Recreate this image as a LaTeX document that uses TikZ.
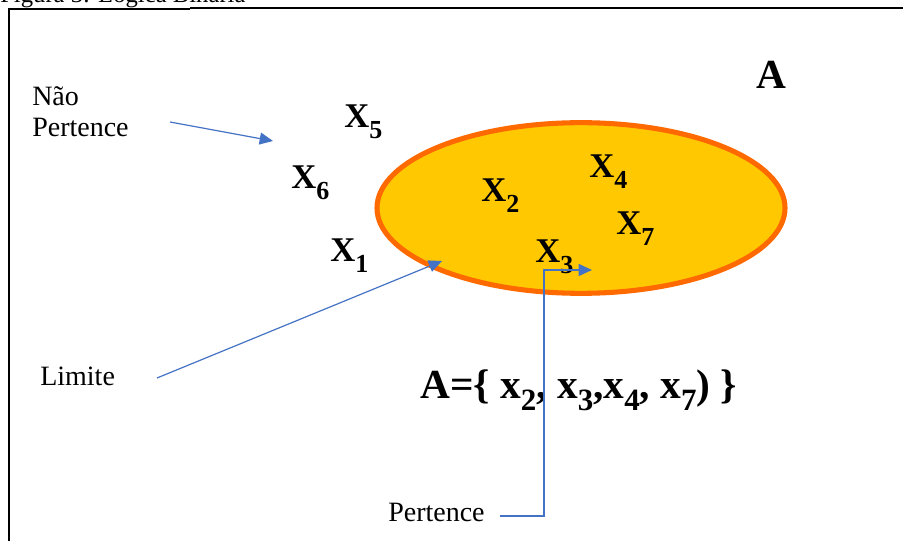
\documentclass[tikz,border=0pt]{standalone}
\usepackage{fontspec}
\usepackage{graphicx}
\setmainfont{Liberation Serif}
\usetikzlibrary{arrows.meta,shapes.geometric}
\definecolor{arrowblue}{HTML}{4472C4}
\definecolor{ellfill}{HTML}{FFC800}
\definecolor{ellline}{HTML}{FF6A00}
\newcommand{\lsub}[1]{\raisebox{-0.3em}{\scalebox{0.75}{#1}}}
\tikzset{
  elem/.style={font=\fontsize{26}{28}\selectfont\bfseries, inner sep=0pt, anchor=base west},
  plain/.style={font=\fontsize{21}{24}\selectfont, inner sep=0pt, anchor=base west},
  conn/.style={draw=arrowblue, line width=0.9pt, -{Triangle[length=10pt,width=9pt]}},
}
\begin{document}
\begin{tikzpicture}[x=0.75pt,y=-0.75pt]
\useasboundingbox (0,0) rectangle (903,541);
% caption (cut off at top, as in the reference)
\node[font=\fontsize{18.5}{21}\selectfont, inner sep=0pt, anchor=base west] (cap) at (0,3) {Figura 3: Lógica Binária};
% frame
\draw[line width=1.2pt] (9,545) -- (9,9) -- (190,9);
\draw[line width=0.9pt] (190,8) -- (897,8);
\draw[line width=1.5pt] (897,8) -- (903,8);
% set ellipse
\node[draw=ellline, fill=ellfill, line width=3.8pt, ellipse, minimum width=306pt, minimum height=128pt, inner sep=0pt] (setA) at (581,208) {};
\node[font=\fontsize{31}{33}\selectfont\bfseries, inner sep=0pt, anchor=base] (lblA) at (771,89) {A};
% elements
\node[elem] (x5) at (344,128) {X\lsub{5}};
\node[elem] (x6) at (291,189) {X\lsub{6}};
\node[elem] (x1) at (330,262) {X\lsub{1}};
\node[elem] (x2) at (481,202) {X\lsub{2}};
\node[elem] (x4) at (589,178) {X\lsub{4}};
\node[elem] (x7) at (616,235) {X\lsub{7}};
\node[elem] (x3) at (535,263) {X\lsub{3}};
% formula
\node[font=\fontsize{31}{34}\selectfont\bfseries, inner sep=0pt, anchor=base west] (formula) at (420,398)
  {A=\{ x\lsub{2}, x\lsub{3},x\lsub{4}, x\lsub{7}) \}};
% labels
\node[plain] (nao) at (32,106) {Não};
\node[plain] (naop) at (32,137) {Pertence};
\node[plain] (lim) at (40,386) {Limite};
\node[plain] (pert) at (388,521) {Pertence};
% connector coordinates
\coordinate (n1) at (170,122);
\coordinate (n2) at (273,141);
\coordinate (l1) at (157,378);
\coordinate (l2) at (442,261);
\coordinate (p1) at (500,516);
\coordinate (p2) at (544,516);
\coordinate (p3) at (544,270);
\coordinate (p4) at (592,270);
\draw[conn] (n1) -- (n2);
\draw[conn] (l1) -- (l2);
\draw[conn] (p1) -- (p2) -- (p3) -- (p4);
\end{tikzpicture}
\end{document}
